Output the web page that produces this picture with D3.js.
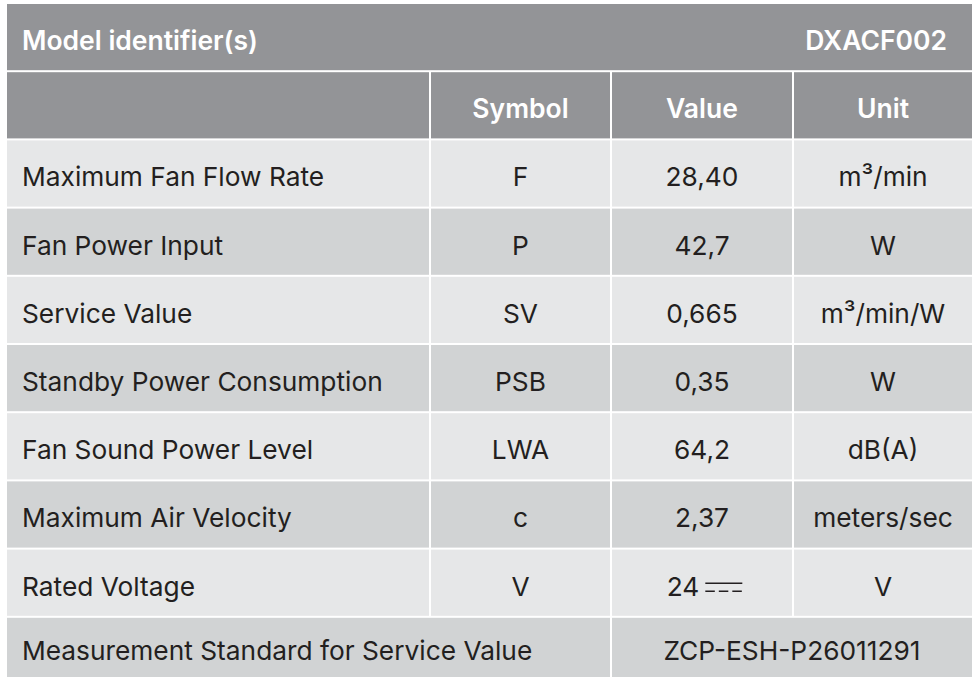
<!DOCTYPE html>
<html>
<head>
<meta charset="utf-8">
<script src="https://cdn.jsdelivr.net/npm/d3@7"></script>
<style>
  body { margin: 0; background: #ffffff; }
  text { font-family: Inter, "Open Sans", sans-serif; }
</style>
</head>
<body>
<div id="table"></div>
<script>
// table content
const modelLabel = "Model identifier(s)";
const modelId = "DXACF002";
const headers = ["", "Symbol", "Value", "Unit"];
const parameters = ["Maximum Fan Flow Rate", "Fan Power Input", "Service Value",
  "Standby Power Consumption", "Fan Sound Power Level", "Maximum Air Velocity", "Rated Voltage"];
const symbols = ["F", "P", "SV", "PSB", "LWA", "c", "V"];
const values = ["28,40", "42,7", "0,665", "0,35", "64,2", "2,37", "24"];
const units = ["m³/min", "W", "m³/min/W", "W", "dB(A)", "meters/sec", "V"];
const standardLabel = "Measurement Standard for Service Value";
const standardValue = "ZCP-ESH-P26011291";

//layout
const width = 973, height = 677;
const colEdges = [7, 431, 612, 794, 974]; // left edge of each column + right end
const gap = 2;
const headFill = "#939497", lightFill = "#e6e7e8", darkFill = "#d1d3d4", ink = "#231f20";

const svg = d3.select("#table").append("svg")
    .attr("width", width)
    .attr("height", height);

const rowIds = d3.range(2 + parameters.length + 1);
const yscale = d3.scaleBand()
    .domain(rowIds)
    .range([4, 4 + 68 * rowIds.length])
    .paddingInner(gap / 68)
    .paddingOuter(0);
const rh = yscale.bandwidth();
// text centre of a row (the last row is cut by the page bottom)
const mid = i => Math.min(yscale(i) + rh / 2, (yscale(i) + height) / 2) + 3.5;

// cell helper: spans column a..b
function cell(row, a, b, fill) {
    svg.append("rect")
        .attr("x", colEdges[a])
        .attr("y", yscale(row))
        .attr("width", colEdges[b + 1] - gap - colEdges[a])
        .attr("height", rh)
        .attr("fill", fill);
}
const cx = (a, b) => (colEdges[a] + colEdges[b + 1] - gap) / 2;

function label(x, y, txt, opts) {
    return svg.append("text")
        .attr("x", x)
        .attr("y", y)
        .attr("dy", "0.36em")
        .attr("text-anchor", opts.anchor || "middle")
        .attr("font-size", opts.size || 26.3)
        .attr("font-weight", opts.bold ? 600 : 400)
        .attr("fill", opts.fill || ink)
        .text(txt);
}

// header row 1
cell(0, 0, 3, headFill);
label(22, mid(0), modelLabel, {anchor: "start", bold: true, fill: "#fff", size: 26.5});
label(947, mid(0), modelId, {anchor: "end", bold: true, fill: "#fff", size: 26.5});

// header row 2
headers.forEach((h, c) => {
    cell(1, c, c, headFill);
    if (h) label(cx(c, c), mid(1), h, {bold: true, fill: "#fff", size: 26.5});
});

// data rows
parameters.forEach((p, i) => {
    const r = i + 2;
    const fill = i % 2 === 0 ? lightFill : darkFill;
    [0, 1, 2, 3].forEach(c => cell(r, c, c, fill));
    label(22, mid(r), p, {anchor: "start"});
    label(cx(1, 1), mid(r), symbols[i], {});
    const v = label(cx(2, 2), mid(r), values[i], {});
    label(cx(3, 3), mid(r), units[i], {});
    if (values[i] === "24") {
        // direct current symbol after the value
        v.attr("x", cx(2, 2) - 19);
        const bb = v.node().getBBox();
        const x0 = bb.x + bb.width + 6, w = 37;
        svg.append("line")
            .attr("x1", x0).attr("x2", x0 + w)
            .attr("y1", mid(r) - 3).attr("y2", mid(r) - 3)
            .attr("stroke", ink).attr("stroke-width", 1.6);
        svg.append("line")
            .attr("x1", x0).attr("x2", x0 + w)
            .attr("y1", mid(r) + 5).attr("y2", mid(r) + 5)
            .attr("stroke", ink).attr("stroke-width", 1.6)
            .attr("stroke-dasharray", "9.5,4");
    }
});

// measurement standard row
const last = rowIds.length - 1;
const lastFill = parameters.length % 2 === 0 ? lightFill : darkFill;
cell(last, 0, 1, lastFill);
cell(last, 2, 3, lastFill);
label(22, mid(last), standardLabel, {anchor: "start"});
label(cx(2, 3), mid(last), standardValue, {});
</script>
</body>
</html>
